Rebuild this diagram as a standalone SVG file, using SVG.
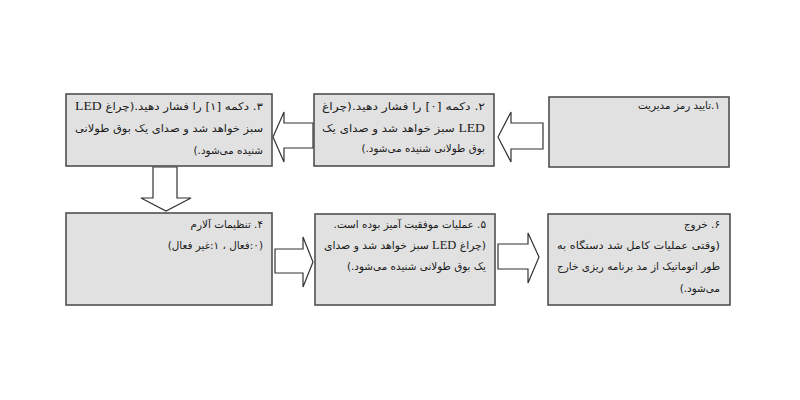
<svg xmlns="http://www.w3.org/2000/svg" width="800" height="400" viewBox="0 0 800 400">
<style>
.box{fill:#e1e1e1;stroke:#505050;stroke-width:1.6}
.arr{fill:#fff;stroke:#333;stroke-width:1.2;stroke-linejoin:miter}
.t{font-family:"DejaVu Sans",sans-serif;font-size:10.4px;fill:#1a1a1a;direction:rtl;text-anchor:start}
.en{font-family:"Liberation Serif",serif;font-size:12px}
</style>
<rect width="800" height="400" fill="#fff"/>
<g id="connectors">
<polygon class="arr" points="273,137 284,112 284,123 313,123 313,148 284,148 284,162"/>
<polygon class="arr" points="498,137 511,112 511,123 543,123 543,149 511,149 511,162"/>
<polygon class="arr" points="153,167 177,167 177,198 191,198 166,211 141,198 153,198"/>
<polygon class="arr" points="275,249 303,249 303,237 313,262 303,287 303,273 275,273"/>
<polygon class="arr" points="498,244 528,244 528,233 539,257 528,283 528,269 498,269"/>
</g>
<g id="node1">
<rect class="box" x="549" y="97" width="180" height="70"/>
<text class="t" x="720" y="109" direction="rtl">۱.تایید رمز مدیریت</text>
</g>
<g id="node2">
<rect class="box" x="314" y="94" width="180" height="72"/>
<text class="t" x="485" y="110" direction="rtl" textLength="163" lengthAdjust="spacingAndGlyphs">۲. دکمه [۰] را فشار دهید.(چراغ</text>
<text class="t" x="485" y="132" direction="rtl" textLength="163" lengthAdjust="spacingAndGlyphs"><tspan class="en">LED</tspan> سبز خواهد شد و صدای یک</text>
<text class="t" x="485" y="152" direction="rtl">بوق طولانی شنیده می‌شود.)</text>
</g>
<g id="node3">
<rect class="box" x="66" y="94" width="206" height="72"/>
<text class="t" x="263" y="110" direction="rtl" textLength="188" lengthAdjust="spacingAndGlyphs">۳. دکمه [۱] را فشار دهید.(چراغ <tspan class="en">LED</tspan></text>
<text class="t" x="263" y="132" direction="rtl" textLength="188" lengthAdjust="spacingAndGlyphs">سبز خواهد شد و صدای یک بوق طولانی</text>
<text class="t" x="263" y="154" direction="rtl">شنیده می‌شود.)</text>
</g>
<g id="node4">
<rect class="box" x="66" y="213" width="206" height="92"/>
<text class="t" x="263" y="228" direction="rtl">۴. تنظیمات آلارم</text>
<text class="t" x="263" y="249" direction="rtl">(۰:فعال ، ۱:غیر فعال)</text>
</g>
<g id="node5">
<rect class="box" x="315" y="214" width="180" height="91"/>
<text class="t" x="486" y="228" direction="rtl">۵. عملیات موفقیت آمیز بوده است.</text>
<text class="t" x="486" y="249" direction="rtl" textLength="162" lengthAdjust="spacingAndGlyphs">(چراغ <tspan class="en">LED</tspan> سبز خواهد شد و صدای</text>
<text class="t" x="486" y="270" direction="rtl">یک بوق طولانی شنیده می‌شود.)</text>
</g>
<g id="node6">
<rect class="box" x="548" y="214" width="182" height="91"/>
<text class="t" x="720" y="228" direction="rtl">۶. خروج</text>
<text class="t" x="720" y="249" direction="rtl" textLength="163" lengthAdjust="spacingAndGlyphs">(وقتی عملیات کامل شد دستگاه به</text>
<text class="t" x="720" y="270" direction="rtl" textLength="163" lengthAdjust="spacingAndGlyphs">طور اتوماتیک از مد برنامه ریزی خارج</text>
<text class="t" x="720" y="292" direction="rtl">می‌شود.)</text>
</g>
</svg>
